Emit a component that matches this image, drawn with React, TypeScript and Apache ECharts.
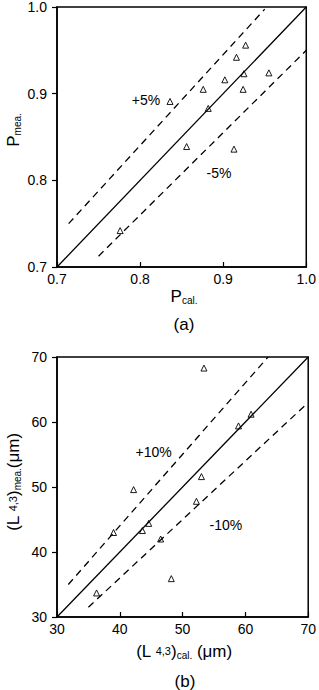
import React, { useEffect, useRef } from "react";
import * as echarts from "echarts";

// Chart (a): porosity P
const pointsA: number[][] = [
  [0.836, 0.891],
  [0.876, 0.905],
  [0.902, 0.916],
  [0.916, 0.942],
  [0.927, 0.956],
  [0.925, 0.923],
  [0.924, 0.905],
  [0.955, 0.924],
  [0.882, 0.883],
  [0.856, 0.839],
  [0.913, 0.836],
  [0.776, 0.742],
];
const identityA: number[][] = [[0.7, 0.7], [1.0, 1.0]];
const plus5: number[][] = [[0.714, 0.75], [0.95, 0.9975]];
const minus5: number[][] = [[0.75, 0.7125], [1.0, 0.95]];
const ticksA = [0.7, 0.8, 0.9, 1.0];
const annotA = [
  { text: "+5%", x: 0.807, y: 0.893 },
  { text: "-5%", x: 0.895, y: 0.808 },
];

// Chart (b): L4,3 mean size (μm)
const pointsB: number[][] = [
  [53.4, 68.3],
  [58.9, 59.4],
  [60.9, 61.2],
  [42.2, 49.6],
  [53.0, 51.6],
  [52.2, 47.8],
  [39.0, 43.0],
  [43.6, 43.3],
  [44.6, 44.4],
  [46.5, 42.0],
  [48.2, 35.9],
  [36.3, 33.7],
];
const identityB: number[][] = [[30, 30], [70, 70]];
const plus10: number[][] = [[31.8, 35.0], [63.6, 70.0]];
const minus10: number[][] = [[35.0, 31.5], [69.5, 62.55]];
const ticksB = [30, 40, 50, 60, 70];
const annotB = [
  { text: "+10%", x: 45.4, y: 55.4 },
  { text: "-10%", x: 56.9, y: 44.2 },
];

const FONT = "Liberation Sans, Arial, sans-serif";

export default function App() {
  const ref = useRef<HTMLDivElement>(null);
  useEffect(() => {
    document.body.style.margin = "0";
    const chart = echarts.init(ref.current!, null, { renderer: "svg" });

    const axisCommon = (isX: boolean, min: number, max: number, interval: number, dec: number) => ({
      type: "value" as const,
      min,
      max,
      interval,
      axisLine: { show: true, lineStyle: { color: "#000", width: 1.5 } },
      axisTick: { show: true, inside: isX, length: 5, lineStyle: { color: "#000", width: 1.2 } },
      splitLine: { show: false },
      axisLabel: {
        color: "#000",
        fontFamily: FONT,
        fontSize: 14,
        margin: isX ? 5 : 10,
        formatter: (v: number) => v.toFixed(dec),
      },
    });

    const lineSeries = (data: number[][], idx: number, dashed: boolean) => ({
      type: "line" as const,
      xAxisIndex: idx,
      yAxisIndex: idx,
      data,
      symbol: "none",
      lineStyle: { color: "#000", width: 1.3, type: dashed ? [7, 5] : "solid" },
      silent: true,
    });

    const scatterSeries = (data: number[][], idx: number) => ({
      type: "scatter" as const,
      xAxisIndex: idx,
      yAxisIndex: idx,
      data,
      symbol: "triangle",
      symbolSize: 6,
      itemStyle: { color: "#fff", borderColor: "#000", borderWidth: 0.9, opacity: 1 },
    });

    const annotSeries = (items: { text: string; x: number; y: number }[], idx: number) => ({
      type: "scatter" as const,
      xAxisIndex: idx,
      yAxisIndex: idx,
      symbolSize: 0,
      itemStyle: { opacity: 1, color: "#000" },
      data: items.map((d) => ({ value: [d.x, d.y], name: d.text })),
      label: {
        show: true,
        position: "inside",
        formatter: (p: any) => p.name,
        color: "#000",
        textBorderWidth: 0,
        textBorderColor: "transparent",
        opacity: 1,
        fontFamily: FONT,
        fontSize: 14,
      },
      silent: true,
    });

    const subRich = {
      m: { fontSize: 17, fontFamily: FONT, color: "#000" },
      t: { fontSize: 11, fontFamily: FONT, color: "#000", verticalAlign: "middle" },
      s: { fontSize: 10, fontFamily: FONT, color: "#000", padding: [8, 0, 0, 0] },
    };

    chart.setOption({
      animation: false,
      grid: [
        { left: 57, top: 7, width: 254, height: 260, show: true, borderColor: "#000", borderWidth: 1.5 },
        { left: 57, top: 357, width: 254, height: 260, show: true, borderColor: "#000", borderWidth: 1.5 },
      ],
      xAxis: [
        { gridIndex: 0, ...axisCommon(true, ticksA[0], ticksA[ticksA.length - 1], 0.1, 1) },
        { gridIndex: 1, ...axisCommon(true, ticksB[0], ticksB[ticksB.length - 1], 10, 0) },
      ],
      yAxis: [
        { gridIndex: 0, ...axisCommon(false, ticksA[0], ticksA[ticksA.length - 1], 0.1, 1) },
        { gridIndex: 1, ...axisCommon(false, ticksB[0], ticksB[ticksB.length - 1], 10, 0) },
      ],
      series: [
        lineSeries(identityA, 0, false),
        lineSeries(plus5, 0, true),
        lineSeries(minus5, 0, true),
        scatterSeries(pointsA, 0),
        annotSeries(annotA, 0),
        lineSeries(identityB, 1, false),
        lineSeries(plus10, 1, true),
        lineSeries(minus10, 1, true),
        scatterSeries(pointsB, 1),
        annotSeries(annotB, 1),
      ],
      graphic: [
        {
          type: "text",
          x: 184,
          y: 296,
          style: {
            text: "{m|P}{s|cal.}",
            align: "center",
            verticalAlign: "middle",
            fontFamily: FONT,
            fill: "#000",
            rich: subRich,
          },
        },
        {
          type: "text",
          x: 184,
          y: 324,
          style: { text: "(a)", align: "center", verticalAlign: "middle", fontSize: 17, fontFamily: FONT, fill: "#000" },
        },
        {
          type: "text",
          x: 13,
          y: 130,
          rotation: Math.PI / 2,
          style: {
            text: "{m|P}{s|mea.}",
            align: "center",
            verticalAlign: "middle",
            fontFamily: FONT,
            fill: "#000",
            rich: subRich,
          },
        },
        {
          type: "text",
          x: 184,
          y: 651,
          style: {
            text: "{m|(L }{t|4,3}{m|)}{s|cal.}{m| (μm)}",
            align: "center",
            verticalAlign: "middle",
            fontFamily: FONT,
            fill: "#000",
            rich: subRich,
          },
        },
        {
          type: "text",
          x: 185,
          y: 681,
          style: { text: "(b)", align: "center", verticalAlign: "middle", fontSize: 17, fontFamily: FONT, fill: "#000" },
        },
        {
          type: "text",
          x: 13,
          y: 482,
          rotation: Math.PI / 2,
          style: {
            text: "{m|(L }{t|4,3}{m|)}{s|mea.}{m|(μm)}",
            align: "center",
            verticalAlign: "middle",
            fontFamily: FONT,
            fill: "#000",
            rich: subRich,
          },
        },
      ],
    });
    return () => chart.dispose();
  }, []);
  return (
    <div
      ref={ref}
      style={{ position: "absolute", left: 0, top: 0, width: 319, height: 690, background: "#fff" }}
    />
  );
}
